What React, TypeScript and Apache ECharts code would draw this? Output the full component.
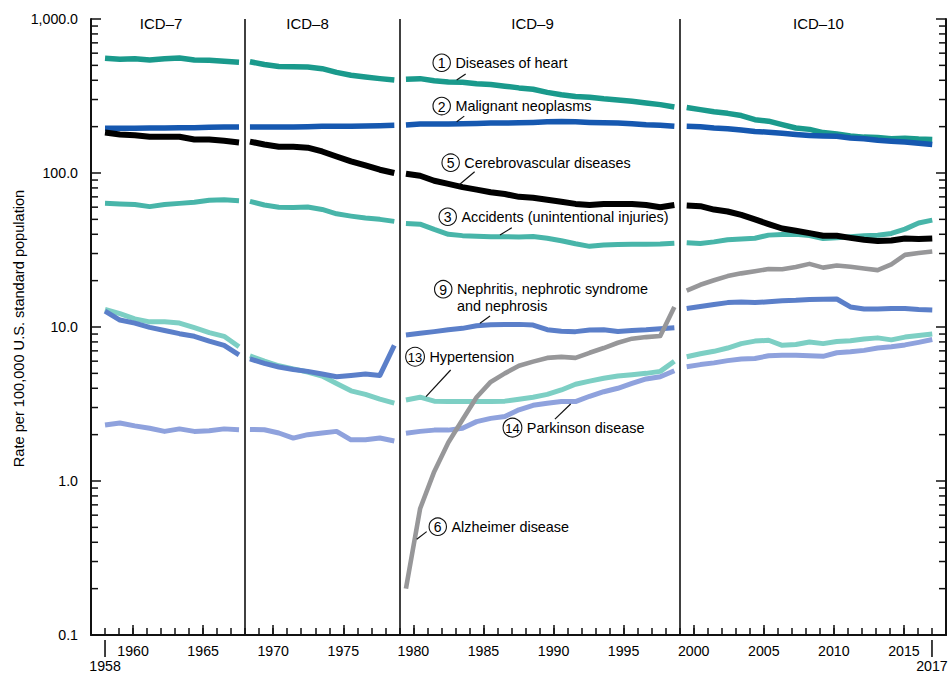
import React, { useEffect, useRef } from 'react';
import * as echarts from 'echarts';

// ---------------- data ----------------
const FIRST_YEAR = 1958;
const PERIOD_NAMES = ['ICD–7', 'ICD–8', 'ICD–9', 'ICD–10'];
const PERIOD_START = [1958, 1968, 1979, 1999];
const PERIOD_END = [1967, 1978, 1998, 2017];
const SEPARATOR_YEARS = [1968, 1979, 1999];

const X_LABEL_YEARS = [1960, 1965, 1970, 1975, 1980, 1985, 1990, 1995, 2000, 2005, 2010, 2015];
const X_END_YEARS = [1958, 2017];
const Y_TICK_VALUES = [0.1, 1, 10, 100, 1000];
const Y_TICK_LABELS = ['0.1', '1.0', '10.0', '100.0', '1,000.0'];
const Y_MINOR_MULTIPLIERS = [2, 3, 4, 5, 6, 7, 8, 9];

// values by year 1958..2017 (null = not plotted)
const HEART = [
  556, 547, 552, 542, 552, 558, 542, 539, 531, 523,
  528, 506, 492, 490, 488, 476, 450, 431, 420, 410, 402,
  406, 410, 397, 390, 388, 380, 375, 366, 357, 350, 334, 322, 314, 310, 303, 298, 292, 285, 278, 268,
  266, 258, 250, 244, 236, 222, 217, 206, 196, 192, 183, 179, 174, 171, 170, 167, 168, 166, 165,
];
const CANCER = [
  195, 195, 195, 196, 196, 197, 197, 198, 199, 199,
  199, 199, 199, 199, 200, 201, 201, 201, 202, 203, 204,
  205, 208, 208, 208, 209, 210, 211, 211, 212, 213, 215, 216, 215, 213, 212, 211, 209, 206, 204, 201,
  201, 200, 196, 194, 190, 186, 184, 181, 178, 175, 174, 173, 169, 167, 163, 161, 159, 156, 153,
];
const STROKE = [
  183, 178, 176, 172, 172, 172, 165, 165, 162, 158,
  160, 153, 148, 148, 146, 138, 128, 119, 112, 105, 100,
  99, 96, 89, 85, 81, 78, 75, 73, 70, 69, 67, 65, 63, 62, 63, 63, 63, 62, 60, 62,
  61.6, 60.9, 57.9, 56.2, 53.5, 50.0, 46.6, 43.6, 42.2, 40.7, 39.1, 39.1, 37.9, 36.9, 36.2, 36.5, 37.6, 37.3, 37.6,
];
const ACCIDENTS = [
  63.5, 63, 62.5, 60.5, 62.5, 63.5, 64.5, 66.5, 67, 66,
  65.5, 62, 60, 59.8, 60.2, 58, 54.3, 52.5, 51, 50, 48.5,
  47, 46.5, 43, 40, 39.2, 38.9, 38.6, 38.6, 38.4, 38.7, 37.7, 36.3, 34.7, 33.4, 34.1, 34.3, 34.4, 34.5, 34.6, 35,
  35.3, 34.9, 35.7, 36.9, 37.3, 37.7, 39.5, 39.8, 40.0, 39.2, 37.5, 38.0, 38.6, 39.1, 39.4, 40.5, 43.2, 47.4, 49.4,
];
const ALZHEIMER = [
  null, null, null, null, null, null, null, null, null, null,
  null, null, null, null, null, null, null, null, null, null, null,
  0.2, 0.66, 1.15, 1.78, 2.5, 3.5, 4.4, 5.0, 5.6, 5.96, 6.3, 6.4, 6.3, 6.8, 7.3, 7.9, 8.4, 8.6, 8.75, 13.5,
  17.2, 18.8, 20.1, 21.4, 22.3, 23.0, 23.8, 23.7, 24.5, 25.7, 24.3, 25.1, 24.6, 24.0, 23.4, 25.5, 29.4, 30.2, 30.9,
];
const NEPHRITIS = [
  12.7, 11.1, 10.6, 9.95, 9.5, 9.05, 8.7, 8.1, 7.6, 6.6,
  6.2, 5.8, 5.5, 5.3, 5.15, 4.95, 4.75, 4.85, 4.95, 4.85, 7.6,
  8.87, 9.1, 9.33, 9.6, 9.8, 10.2, 10.35, 10.4, 10.4, 10.3, 9.6, 9.4, 9.33, 9.55, 9.6, 9.35, 9.5, 9.6, 9.75, 9.9,
  13.2, 13.6, 14.0, 14.4, 14.55, 14.4, 14.6, 14.8, 14.9, 15.1, 15.15, 15.2, 13.5, 13.1, 13.1, 13.2, 13.2, 13.0, 12.9,
];
const HYPERTENSION = [
  13.0, 12.2, 11.3, 10.8, 10.8, 10.6, 9.9, 9.2, 8.7, 7.45,
  6.5, 6.0, 5.6, 5.35, 5.1, 4.8, 4.3, 3.85, 3.65, 3.4, 3.2,
  3.36, 3.5, 3.3, 3.28, 3.28, 3.28, 3.28, 3.3, 3.4, 3.5, 3.65, 3.9, 4.25, 4.45, 4.65, 4.8, 4.9, 5.0, 5.15, 6.0,
  6.41, 6.7, 6.95, 7.3, 7.8, 8.1, 8.2, 7.6, 7.7, 8.0, 7.8, 8.05, 8.15, 8.35, 8.5, 8.25, 8.6, 8.8, 9.0,
];
const PARKINSON = [
  2.31, 2.38, 2.28, 2.2, 2.1, 2.18, 2.1, 2.12, 2.18, 2.15,
  2.16, 2.15, 2.05, 1.9, 2.0, 2.05, 2.1, 1.85, 1.85, 1.9, 1.82,
  2.04, 2.1, 2.14, 2.14, 2.2, 2.43, 2.55, 2.62, 2.9, 3.1, 3.2, 3.28, 3.28, 3.55, 3.8, 4.0, 4.3, 4.6, 4.75, 5.2,
  5.52, 5.7, 5.85, 6.05, 6.2, 6.25, 6.5, 6.55, 6.55, 6.5, 6.45, 6.8, 6.9, 7.05, 7.3, 7.45, 7.65, 7.95, 8.3,
];

// ---------------- layout / style ----------------
const FONT = "'Liberation Sans', Arial, Helvetica, sans-serif";
const TEXT = '#000000';
// each period's line is drawn between these axis positions (gaps at the separators)
const PERIOD_PLOT_FROM = [1958.0, 1968.34, 1979.47, 1999.5];
const PERIOD_PLOT_TO = [1967.56, 1978.64, 1998.62, 2017.02];
const PERIOD_LABEL_AT = [1962.0, 1972.45, 1988.5, 2008.9];

const CAUSES = [
  { name: 'Parkinson disease', values: PARKINSON, color: '#8fa2dd', width: 5 },
  { name: 'Hypertension', values: HYPERTENSION, color: '#7dcfc4', width: 5 },
  { name: 'Nephritis, nephrotic syndrome and nephrosis', values: NEPHRITIS, color: '#5b7fc9', width: 5 },
  { name: 'Alzheimer disease', values: ALZHEIMER, color: '#979799', width: 4.6 },
  { name: 'Accidents (unintentional injuries)', values: ACCIDENTS, color: '#48b5a9', width: 5 },
  { name: 'Diseases of heart', values: HEART, color: '#1a9a8c', width: 5.5 },
  { name: 'Malignant neoplasms', values: CANCER, color: '#1658b0', width: 5.5 },
  { name: 'Cerebrovascular diseases', values: STROKE, color: '#000000', width: 6 },
];

const ANNOTATIONS = [
  { num: '1', lines: ['Diseases of heart'], at: [1982.02, 520], leader: [1983.09, 402, 1983.73, 439] },
  { num: '2', lines: ['Malignant neoplasms'], at: [1982.02, 272], leader: [1983.09, 215, 1983.63, 234] },
  { num: '5', lines: ['Cerebrovascular diseases'], at: [1982.66, 116.7], leader: [1983.25, 83.6, 1984.37, 102] },
  { num: '3', lines: ['Accidents (unintentional injuries)'], at: [1982.45, 52.0], leader: [1986.18, 39.6, 1987.02, 44.1] },
  { num: '9', lines: ['Nephritis, nephrotic syndrome', 'and nephrosis'], at: [1982.13, 17.6], leader: [1984.75, 10.57, 1985.47, 11.8] },
  { num: '13', lines: ['Hypertension'], at: [1980.12, 6.41], leader: [1980.9, 3.53, 1982.66, 5.26] },
  { num: '14', lines: ['Parkinson disease'], at: [1987.07, 2.22], leader: [1990.1, 2.52, 1991.22, 3.16] },
  { num: '6', lines: ['Alzheimer disease'], at: [1981.74, 0.505], leader: [1980.24, 0.418, 1980.95, 0.469] },
];

function yLabel(v: number): string {
  for (let i = 0; i < Y_TICK_VALUES.length; i++) {
    if (Math.abs(Math.log10(v) - Math.log10(Y_TICK_VALUES[i])) < 1e-6) return Y_TICK_LABELS[i];
  }
  return String(v);
}

function buildSeries() {
  const series: any[] = [];
  CAUSES.forEach((c, ci) => {
    PERIOD_START.forEach((start, p) => {
      const end = PERIOD_END[p];
      const n = end - start + 1;
      const from = PERIOD_PLOT_FROM[p];
      const to = PERIOD_PLOT_TO[p];
      const pts: number[][] = [];
      for (let i = 0; i < n; i++) {
        const v = c.values[start - FIRST_YEAR + i];
        if (v == null) continue;
        pts.push([from + (i * (to - from)) / (n - 1), v]);
      }
      if (!pts.length) return;
      series.push({
        type: 'line',
        name: c.name + ' ' + PERIOD_NAMES[p],
        data: pts,
        xAxisIndex: 0,
        yAxisIndex: 0,
        showSymbol: false,
        symbol: 'none',
        silent: true,
        z: 2 + ci * 0.01,
        lineStyle: { color: c.color, width: c.width, cap: 'butt', join: 'round' },
        itemStyle: { color: c.color },
        emphasis: { disabled: true },
      });
    });
  });
  series.push({
    type: 'line',
    name: 'separators',
    data: [],
    xAxisIndex: 0,
    yAxisIndex: 0,
    silent: true,
    markLine: {
      silent: true,
      symbol: ['none', 'none'],
      label: { show: false },
      lineStyle: { color: '#111', width: 1.6, type: 'solid' },
      emphasis: { disabled: true },
      data: SEPARATOR_YEARS.map((y) => ({ xAxis: y })),
    },
  });
  return series;
}

function buildOption(): any {
  const allYears: number[] = [];
  for (let y = PERIOD_START[0]; y <= PERIOD_END[PERIOD_END.length - 1]; y++) allYears.push(y);
  const axisLine = { show: true, onZero: false, lineStyle: { color: '#111', width: 2 } };
  const tickStyle = { color: '#111', width: 1.5 };
  return {
    animation: false,
    backgroundColor: '#ffffff',
    grid: { left: 91, right: 5, top: 19, bottom: 39, containLabel: false, outerBoundsMode: 'none' },
    xAxis: [
      {
        type: 'value', min: 1957, max: 2018, position: 'bottom',
        axisLine,
        axisTick: { show: true, inside: true, length: 10, customValues: X_LABEL_YEARS, lineStyle: tickStyle },
        axisLabel: {
          show: true, customValues: X_LABEL_YEARS, margin: 9, color: TEXT, fontFamily: FONT, fontSize: 14.2,
          formatter: (v: number) => String(v),
        },
        splitLine: { show: false },
      },
      {
        type: 'value', min: 1957, max: 2018, position: 'bottom',
        axisLine: { show: false, onZero: false },
        axisTick: { show: true, inside: true, length: 7, customValues: allYears, lineStyle: tickStyle },
        axisLabel: { show: false },
        splitLine: { show: false },
      },
    ],
    yAxis: [
      {
        type: 'log', logBase: 10, min: 0.1, max: 1000, position: 'left',
        axisLine,
        axisTick: { show: true, inside: true, length: 10, lineStyle: tickStyle },
        axisLabel: { show: true, margin: 13, color: TEXT, fontFamily: FONT, fontSize: 14.2, formatter: yLabel },
        splitLine: { show: false },
      },
      {
        type: 'log', logBase: 10, min: 0.1, max: 1000, position: 'right',
        axisLine,
        axisTick: { show: true, inside: true, length: 10, lineStyle: tickStyle },
        axisLabel: { show: false },
        splitLine: { show: false },
      },
    ],
    series: buildSeries(),
  };
}

function buildGraphics(chart: any): any[] {
  const px = (x: number, y: number): number[] =>
    chart.convertToPixel({ xAxisIndex: 0, yAxisIndex: 0 }, [x, y]) as number[];
  const leftX = px(1957, 1)[0];
  const rightX = px(2018, 1)[0];
  const topY = px(1960, 1000)[1];
  const bottomY = px(1960, 0.1)[1];
  const els: any[] = [];
  const lineEl = (x1: number, y1: number, x2: number, y2: number, w = 1.5) => ({
    type: 'line', silent: true, z: 20,
    shape: { x1, y1, x2, y2 },
    style: { stroke: '#111', lineWidth: w },
  });
  const textEl = (x: number, y: number, text: string, size: number, align = 'left', extra: any = {}) => ({
    type: 'text', silent: true, z: 20, x, y, ...extra,
    style: {
      text, fill: TEXT, font: `${size}px ${FONT}`,
      textAlign: align, align, textVerticalAlign: 'middle', verticalAlign: 'middle',
    },
  });

  // minor ticks on the log axes
  for (let d = 0; d < Y_TICK_VALUES.length - 1; d++) {
    Y_MINOR_MULTIPLIERS.forEach((k) => {
      const y = px(1960, Y_TICK_VALUES[d] * k)[1];
      els.push(lineEl(leftX, y, leftX + 7, y));
      els.push(lineEl(rightX - 7, y, rightX, y));
    });
  }

  // end years 1958 and 2017 under the axis
  X_END_YEARS.forEach((yr) => {
    const x = px(yr, 1)[0];
    els.push(lineEl(x, bottomY + 5, x, bottomY + 22, 1.6));
    els.push(textEl(x, bottomY + 30.5, String(yr), 14.2, 'center'));
  });

  // period labels
  PERIOD_NAMES.forEach((name, i) => {
    els.push(textEl(px(PERIOD_LABEL_AT[i], 1)[0], topY + 4, name, 15, 'center'));
  });

  // y axis title
  els.push(textEl(19, (topY + bottomY) / 2 + 1.5, 'Rate per 100,000 U.S. standard population', 14.6, 'center',
    { rotation: Math.PI / 2 }));

  // annotations
  ANNOTATIONS.forEach((a) => {
    const [cx, cy] = px(a.at[0], a.at[1]);
    const r = a.num.length > 1 ? 9.4 : 8.7;
    els.push({
      type: 'circle', silent: true, z: 20,
      shape: { cx, cy, r },
      style: { fill: 'rgba(255,255,255,0)', stroke: '#111', lineWidth: 1.1 },
    });
    els.push(textEl(cx, cy + 0.5, a.num, a.num.length > 1 ? 13 : 14, 'center'));
    a.lines.forEach((ln, i) => {
      els.push(textEl(cx + r + 5, cy + i * 16.7, ln, 14.4, 'left'));
    });
    const p1 = px(a.leader[0], a.leader[1]);
    const p2 = px(a.leader[2], a.leader[3]);
    els.push(lineEl(p1[0], p1[1], p2[0], p2[1], 1.2));
  });
  return els;
}

export default function App() {
  const ref = useRef<HTMLDivElement>(null);
  useEffect(() => {
    if (!ref.current) return;
    const chart = echarts.init(ref.current, null, { renderer: 'svg' });
    chart.setOption(buildOption());
    chart.setOption({ graphic: { elements: buildGraphics(chart) } });
    return () => chart.dispose();
  }, []);
  return (
    <div
      ref={ref}
      style={{ position: 'fixed', left: 0, top: 0, width: 951, height: 674, background: '#fff' }}
    />
  );
}
